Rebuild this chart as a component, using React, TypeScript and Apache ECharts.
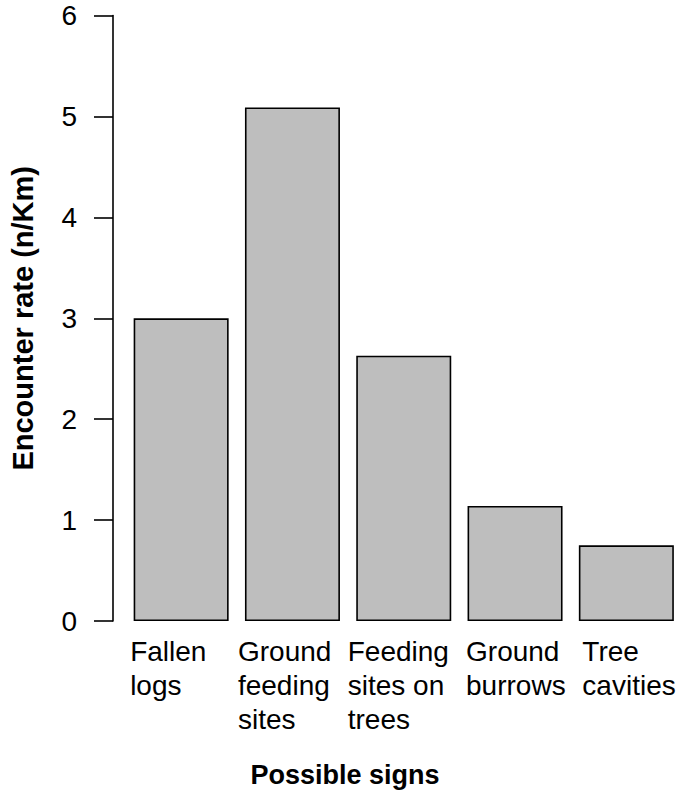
import React, { useEffect, useRef } from "react";
import * as echarts from "echarts";

const categories: string[] = [
  "Fallen\nlogs",
  "Ground\nfeeding\nsites",
  "Feeding\nsites on\ntrees",
  "Ground\nburrows",
  "Tree\ncavities",
];
const values: number[] = [3.0, 5.09, 2.63, 1.14, 0.75];
const yTicks: number[] = [0, 1, 2, 3, 4, 5, 6];
const yTitle = "Encounter rate (n/Km)";
const xTitle = "Possible signs";

const labelBoxWidths = [102, 109, 112, 98, 88];
const FONT = "Liberation Sans, Arial, sans-serif";

export default function App() {
  const ref = useRef<HTMLDivElement>(null);
  useEffect(() => {
    if (!ref.current) return;
    const chart = echarts.init(ref.current, undefined, { renderer: "svg" });
    const rich: Record<string, any> = {};
    labelBoxWidths.forEach((w, i) => {
      rich["c" + i] = {
        width: w,
        align: "left",
        fontSize: 28,
        lineHeight: 34,
        fontFamily: FONT,
        color: "#000",
      };
    });
    chart.setOption({
      animation: false,
      backgroundColor: "#fff",
      grid: { left: 121.5, width: 565.5, top: 15.6, bottom: 172, containLabel: false },
      xAxis: {
        type: "category",
        data: categories,
        axisLine: { show: false },
        axisTick: { show: false },
        axisLabel: {
          interval: 0,
          margin: 13,
          align: "center",
          verticalAlign: "top",
          formatter: (v: string, i: number) =>
            v
              .split("\n")
              .map((l) => `{c${i}|${l}}`)
              .join("\n"),
          rich,
        },
      },
      yAxis: {
        type: "value",
        min: yTicks[0],
        max: yTicks[yTicks.length - 1],
        interval: 1,
        offset: 12.5,
        splitLine: { show: false },
        axisLine: { show: true, lineStyle: { color: "#000", width: 1.6 } },
        axisTick: { show: true, length: 19, lineStyle: { color: "#000", width: 1.6 } },
        axisLabel: {
          margin: 36,
          fontSize: 28,
          color: "#000",
          fontFamily: FONT,
        },
        name: yTitle,
        nameLocation: "middle",
        nameGap: 76,
        nameTextStyle: {
          fontSize: 29,
          fontWeight: "bold",
          color: "#000",
          fontFamily: FONT,
        },
      },
      graphic: [
        {
          type: "text",
          x: 345,
          y: 775,
          style: {
            text: xTitle,
            textAlign: "center",
            textVerticalAlign: "middle",
            fontSize: 27,
            fontWeight: "bold",
            fill: "#000",
            fontFamily: FONT,
          },
        },
      ],
      series: [
        {
          type: "bar",
          data: values,
          barWidth: 95,
          itemStyle: { color: "#bebebe", borderColor: "#000", borderWidth: 1.6 },
        },
      ],
    });
    return () => chart.dispose();
  }, []);
  return (
    <div
      ref={ref}
      style={{ position: "fixed", left: 0, top: 0, width: 682, height: 793 }}
    />
  );
}
